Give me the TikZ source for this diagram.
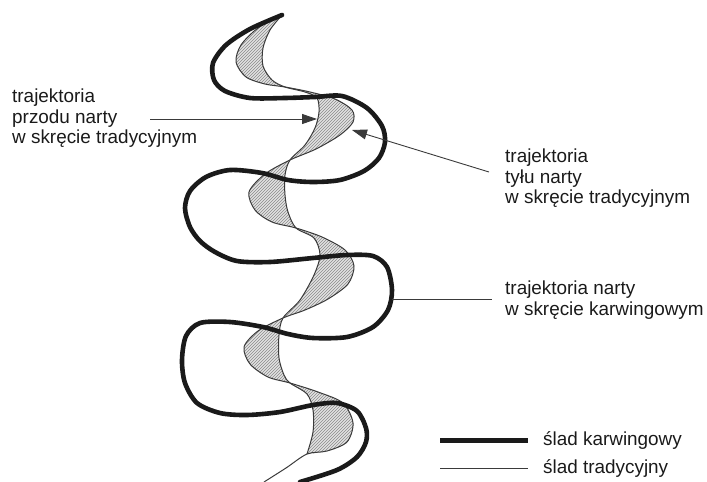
\documentclass[tikz,border=0pt]{standalone}
\usepackage{fontspec}
\setmainfont{Liberation Sans}
\usetikzlibrary{arrows.meta,patterns}
\definecolor{INK}{HTML}{1A1A1A}
\definecolor{THIN}{HTML}{3A3A3A}
\definecolor{HATCHBG}{HTML}{E2E2E2}
\definecolor{HATCH}{HTML}{8A8A8A}

% front / rear ski-tip trajectories (top to bottom)
\def\frontpts{(282,15) (258,28) (241,45) (236,62) (246,77) (265,84) (285,87)
  (310,92) (335,99) (352,110) (353,122) (340,135) (316,149) (290,160)
  (265,174) (249,192) (255,210) (272,222) (296,228)
  (322,237) (345,250) (354,266) (348,284) (328,299) (305,310) (283,318)
  (258,331) (244,347) (250,364) (268,377) (290,383)
  (318,392) (343,403) (353,423) (347,442) (327,451) (307,454)}
\def\rearpts{(307,454) (313,432) (313,410) (307,394) (290,383)
  (284,375) (279,358) (279,335) (283,318)
  (300,300) (314,275) (320,255) (314,238) (296,228)
  (288,212) (285,195) (285,175) (290,160)
  (305,145) (315,128) (319,112) (317,98) (305,92) (285,87)
  (272,80) (263,66) (263,48) (270,30) (282,15)}

\begin{document}
\begin{tikzpicture}[x=1pt, y=-1pt,
  txt/.style={font=\fontsize{18.9}{20.5}\selectfont, text=INK, align=left, inner sep=0pt},
  carve/.style={line width=4.6pt, draw=INK, line cap=round, line join=round},
  trad/.style={line width=1pt, draw=THIN},
  pointer/.style={line width=0.9pt, draw=THIN},
  tip/.style={pointer, -{Triangle[length=15pt, width=10pt]}},
  hatch/.style={preaction={fill=HATCHBG}, pattern=north east lines, pattern color=HATCH},
]
\useasboundingbox (0,0) rectangle (707,482);

% ---- area between the two traditional tracks ------------------------------
\path[hatch] plot[smooth] coordinates {\frontpts} -- plot[smooth] coordinates {\rearpts} -- cycle;

% ---- traditional tracks ----------------------------------------------------
\draw[trad] plot[smooth] coordinates {\frontpts (286,468) (264,482)};
\draw[trad] plot[smooth] coordinates {\rearpts};

% ---- carving track ---------------------------------------------------------
\draw[carve] plot[smooth] coordinates {(282,15) (250,29) (226,45) (213,63) (214,80)
  (225,91) (250,98) (285,98) (315,97) (342,96) (367,108) (382,126) (385,142)
  (379,158) (364,171) (340,180) (313,182) (288,180) (262,173) (230,170)
  (206,177) (190,191) (185,208) (190,227) (200,241) (215,252) (237,261)
  (270,262) (313,258) (347,255) (373,256) (387,267) (392,290) (388,310)
  (373,327) (347,337) (313,338) (288,334) (263,327) (230,322) (200,323)
  (186,336) (182,360) (185,383) (197,403) (220,413) (247,415) (280,412)
  (313,405) (337,403) (357,411) (366,428) (366,442) (357,457) (337,470) (300,482)};

% ---- labels ----------------------------------------------------------------
\node[txt, anchor=north west] (front) at (12,89) {trajektoria\\przodu narty\\w skręcie tradycyjnym};
\node[txt, anchor=north west] (rear) at (505,149) {trajektoria\\tyłu narty\\w skręcie tradycyjnym};
\node[txt, anchor=north west] (carving) at (505,281) {trajektoria narty\\w skręcie karwingowym};

\coordinate (fronttail) at (150,119);
\coordinate (fronttip) at (317,119);
\coordinate (reartail) at (489,172);
\coordinate (reartip) at (352,130);
\coordinate (carvetip) at (392,299);
\coordinate (carvetail) at (492,299);

\draw[tip] (fronttail) -- (fronttip);
\draw[tip] (reartail) -- (reartip);
\draw[pointer] (carvetip) -- (carvetail);

% ---- legend ----------------------------------------------------------------
\node[txt, anchor=base west] (keycarve) at (543,445) {ślad karwingowy};
\node[txt, anchor=base west] (keytrad) at (543,473) {ślad tradycyjny};
\draw[line width=5pt, draw=INK] ([xshift=-103pt]keycarve.west) -- ([xshift=-15pt]keycarve.west);
\draw[trad] ([xshift=-103pt]keytrad.west) -- ([xshift=-15pt]keytrad.west);

\end{tikzpicture}
\end{document}
